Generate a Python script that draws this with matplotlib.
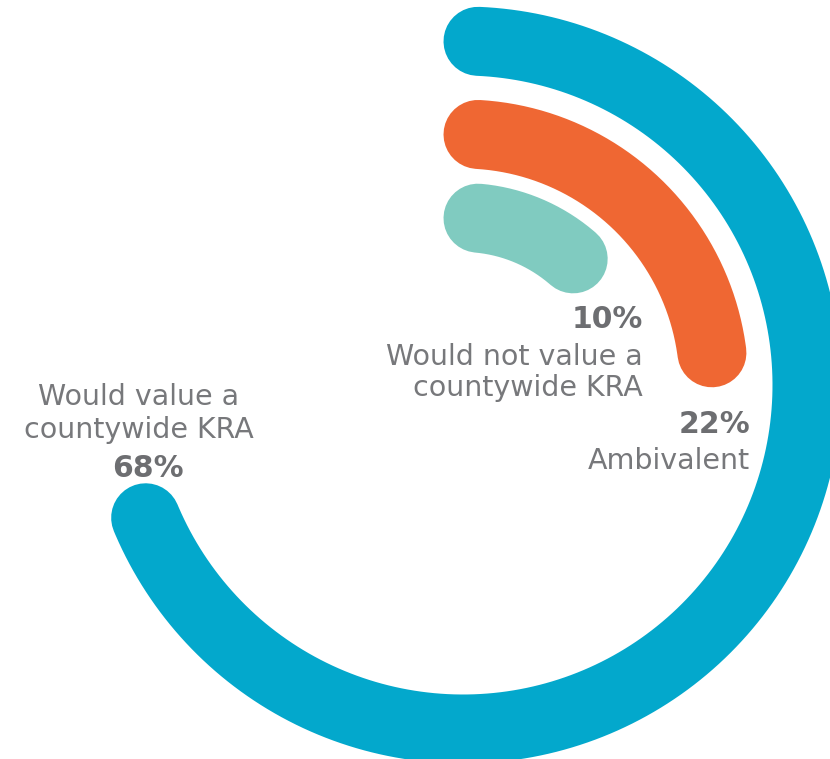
import numpy as np
import matplotlib
matplotlib.use("Agg")
import matplotlib.pyplot as plt

# share of respondents per answer, outer ring first
answers = ["Would value a\ncountywide KRA", "Ambivalent", "Would not value a\ncountywide KRA"]
shares = [68, 22, 10]

ring_colors = ["#03a8cc", "#ef6733", "#80cbc0"]
ring_radius = [344, 251, 167.5]   # pixels
ring_width_px = 69

W, H = 830, 759
cx, cy = 463, 385
start_offset = 15                 # all rings start on the same vertical line

fig = plt.figure(figsize=(W / 100, H / 100), dpi=100)
ax = fig.add_axes([0, 0, 1, 1])
ax.set_xlim(0, W)
ax.set_ylim(H, 0)
ax.axis("off")

lw = ring_width_px * 72 / 100
for share, r, col in zip(shares, ring_radius, ring_colors):
    a0 = np.degrees(np.arccos(start_offset / r))
    a1 = a0 - share / 100 * 360
    t = np.radians(np.linspace(a0, a1, 400))
    ax.plot(cx + r * np.cos(t), cy - r * np.sin(t), color=col, lw=lw,
            solid_capstyle="round")

txt_col = "#77787b"
pct_col = "#6d6e71"
fs = 20.5
pfs = 21.5

# outer ring label, left side
ax.text(139, 405, "Would value a", ha="center", va="baseline", fontsize=fs, color=txt_col)
ax.text(139, 438, "countywide KRA", ha="center", va="baseline", fontsize=fs, color=txt_col)
ax.text(148, 477, f"{shares[0]}%", ha="center", va="baseline", fontsize=pfs,
        fontweight="bold", color=pct_col)

# inner ring label
ax.text(643, 328, f"{shares[2]}%", ha="right", va="baseline", fontsize=pfs,
        fontweight="bold", color=pct_col)
ax.text(643, 365, "Would not value a", ha="right", va="baseline", fontsize=fs, color=txt_col)
ax.text(643, 396, "countywide KRA", ha="right", va="baseline", fontsize=fs, color=txt_col)

# middle ring label
ax.text(750, 433, f"{shares[1]}%", ha="right", va="baseline", fontsize=pfs,
        fontweight="bold", color=pct_col)
ax.text(750, 469, answers[1], ha="right", va="baseline", fontsize=fs, color=txt_col)

fig.savefig("out.png", dpi=100, facecolor="white")
